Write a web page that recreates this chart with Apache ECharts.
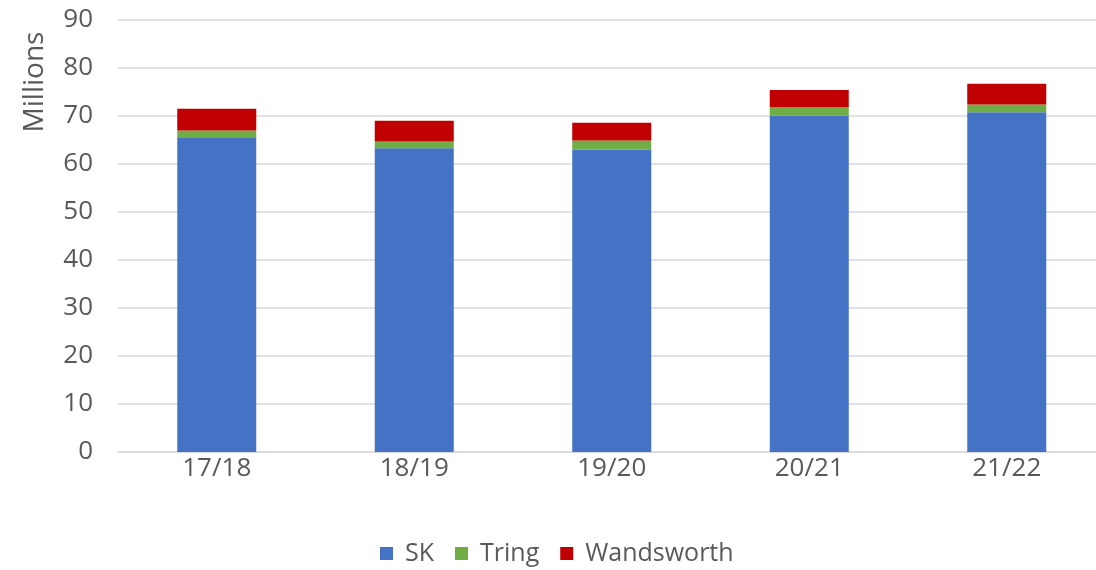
<!DOCTYPE html>
<html>
<head>
<meta charset="utf-8">
<script src="https://cdn.jsdelivr.net/npm/echarts@6/dist/echarts.min.js"></script>
<style>html,body{margin:0;padding:0;background:#fff}#c{width:1096px;height:570px}</style>
</head>
<body>
<div id="c"></div>
<script>
const categories = ['17/18', '18/19', '19/20', '20/21', '21/22'];
const skValues = [65.4, 63.3, 63.0, 70.1, 70.8];
const tringValues = [1.6, 1.4, 1.9, 1.7, 1.6];
const wandsworthValues = [4.5, 4.3, 3.7, 3.6, 4.3];
const yTicks = [0, 10, 20, 30, 40, 50, 60, 70, 80, 90];

const FONT = '"Open Sans", sans-serif';
const FS = 26;
const chart = echarts.init(document.getElementById('c'));
chart.setOption({
  animation: false,
  grid: { left: 118, top: 20, width: 987.5, height: 432, containLabel: false, outerBoundsMode: 'none' },
  legend: {
    left: 375, top: 536, itemWidth: 13, itemHeight: 13, itemGap: 21,
    icon: 'rect',
    textStyle: { fontFamily: FONT, fontSize: 25, color: '#595959', padding: [0, 0, 0, 7] },
    data: ['SK', 'Tring', 'Wandsworth']
  },
  graphic: [{
    type: 'text', x: 35, y: 82, rotation: Math.PI / 2,
    style: { text: 'Millions', fontFamily: FONT, fontSize: 28, fill: '#595959', textAlign: 'center', textVerticalAlign: 'middle' }
  }],
  xAxis: {
    type: 'category', data: categories,
    axisLine: { show: true, lineStyle: { color: '#D9D9D9', width: 1.5 } },
    axisTick: { show: false },
    axisLabel: { fontFamily: FONT, fontSize: FS, color: '#595959', margin: 4 }
  },
  yAxis: {
    type: 'value', min: yTicks[0], max: yTicks[yTicks.length - 1], interval: 10,
    axisLine: { show: false }, axisTick: { show: false },
    axisLabel: { fontFamily: FONT, fontSize: FS, color: '#595959', margin: 25 },
    splitLine: { lineStyle: { color: '#D9D9D9', width: 1.5 } }
  },
  series: [
    { name: 'SK', type: 'bar', stack: 't', data: skValues, barWidth: 79, itemStyle: { color: '#4472C4' } },
    { name: 'Tring', type: 'bar', stack: 't', data: tringValues, barWidth: 79, itemStyle: { color: '#70AD47' } },
    { name: 'Wandsworth', type: 'bar', stack: 't', data: wandsworthValues, barWidth: 79, itemStyle: { color: '#C00000' } }
  ]
});
</script>
</body>
</html>
